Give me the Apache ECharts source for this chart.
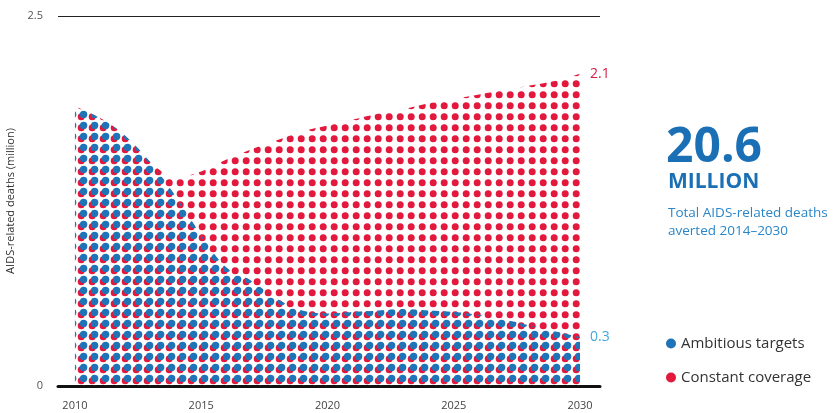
<!DOCTYPE html>
<html>
<head>
<meta charset="utf-8">
<script src="https://cdn.jsdelivr.net/npm/echarts@6/dist/echarts.min.js"></script>
<style>
  html, body { margin: 0; padding: 0; background: #fff; }
  #main { width: 836px; height: 413px; }
</style>
</head>
<body>
<div id="main"></div>
<script>
  // data (million deaths)
  var years = [2010, 2011, 2012, 2013, 2014, 2015, 2016, 2017, 2018, 2019, 2020,
               2021, 2022, 2023, 2024, 2025, 2026, 2027, 2028, 2029, 2030];
  var constantCoverage = [1.89, 1.81, 1.69, 1.51, 1.41, 1.45, 1.53, 1.60, 1.66, 1.72, 1.76,
                          1.80, 1.84, 1.87, 1.91, 1.94, 1.97, 2.00, 2.03, 2.06, 2.11];
  var ambitiousTargets = [1.89, 1.81, 1.69, 1.51, 1.28, 1.02, 0.80, 0.71, 0.59, 0.51, 0.49,
                          0.50, 0.51, 0.52, 0.51, 0.50, 0.48, 0.45, 0.41, 0.37, 0.33];
  var xTicks = [2010, 2015, 2020, 2025, 2030];
  var yTicks = [0, 2.5];

  var RED = '#e2183c';
  var BLUE = '#1f73b7';

  // dotted fills, one tile each
  function dotTile(color, cx, cy, r) {
    var c = document.createElement('canvas');
    c.width = 11; c.height = 11;
    var ctx = c.getContext('2d');
    ctx.fillStyle = color;
    ctx.beginPath();
    ctx.arc(cx, cy, r, 0, Math.PI * 2);
    ctx.fill();
    return c;
  }
  var redDots = dotTile(RED, 4.2, 6.8, 3.5);
  var blueDots = dotTile(BLUE, 6.6, 4.4, 3.7);

  function pairs(vals) {
    return years.map(function (y, i) { return [y, vals[i]]; });
  }

  var mychart = echarts.init(document.getElementById('main'));

  var option = {
    animation: false,
    textStyle: { fontFamily: 'Open Sans' },
    grid: { left: 58, right: 236, top: 16, bottom: 27, containLabel: false, outerBoundsMode: 'none' },
    legend: {
      data: ['Ambitious targets', 'Constant coverage'],
      orient: 'vertical',
      left: 666, top: 336,
      padding: 0,
      icon: 'circle',
      itemWidth: 10, itemHeight: 10, itemGap: 19,
      textStyle: { fontSize: 15, color: '#333', fontFamily: 'Open Sans' }
    },
    xAxis: {
      type: 'value',
      min: 2009.33, max: 2030.79,
      axisLine: { show: true, onZero: false, lineStyle: { color: '#111', width: 3 } },
      axisTick: { show: false },
      splitLine: { show: false },
      axisLabel: {
        customValues: xTicks,
        color: '#444', fontSize: 11, margin: 14,
        formatter: function (v) { return String(v); }
      }
    },
    yAxis: {
      type: 'value',
      min: yTicks[0], max: yTicks[1], interval: 2.5,
      name: 'AIDS-related deaths (million)',
      nameLocation: 'middle',
      nameGap: 38,
      nameTextStyle: { fontSize: 11, color: '#333' },
      axisLine: { show: false },
      axisTick: { show: false },
      splitLine: { show: true, lineStyle: { color: '#222', width: 1 } },
      axisLabel: { color: '#555', fontSize: 11, margin: 15 }
    },
    series: [
      {
        name: 'Constant coverage',
        type: 'line',
        smooth: 0.35,
        symbol: 'none',
        itemStyle: { color: RED },
        lineStyle: { width: 0, opacity: 0 },
        areaStyle: { color: { image: redDots, repeat: 'repeat' }, opacity: 1 },
        endLabel: {
          show: true, distance: 10, color: '#d81b3f', fontSize: 14,
          formatter: function (p) { return p.value[1].toFixed(1); }
        },
        data: pairs(constantCoverage),
        z: 2
      },
      {
        name: 'Ambitious targets',
        type: 'line',
        smooth: 0.35,
        symbol: 'none',
        itemStyle: { color: BLUE },
        lineStyle: { width: 0, opacity: 0 },
        areaStyle: { color: { image: blueDots, repeat: 'repeat' }, opacity: 1 },
        endLabel: {
          show: true, distance: 10, color: '#45a6dc', fontSize: 14,
          formatter: function (p) { return p.value[1].toFixed(1); }
        },
        data: pairs(ambitiousTargets),
        z: 3
      }
    ],
    graphic: [
      { type: 'text', left: 666, top: 124,
        style: { text: '20.6', fill: '#1b70b5', font: 'bold 48px "Open Sans"' } },
      { type: 'text', left: 668, top: 172,
        style: { text: 'MILLION', fill: '#1b70b5', font: 'bold 21px "Open Sans"' } },
      { type: 'text', left: 668, top: 204,
        style: { text: 'Total AIDS-related deaths\naverted 2014\u20132030', fill: '#2a86c8',
                 font: '13.5px "Open Sans"', lineHeight: 18 } }
    ]
  };

  mychart.setOption(option);
</script>
</body>
</html>
